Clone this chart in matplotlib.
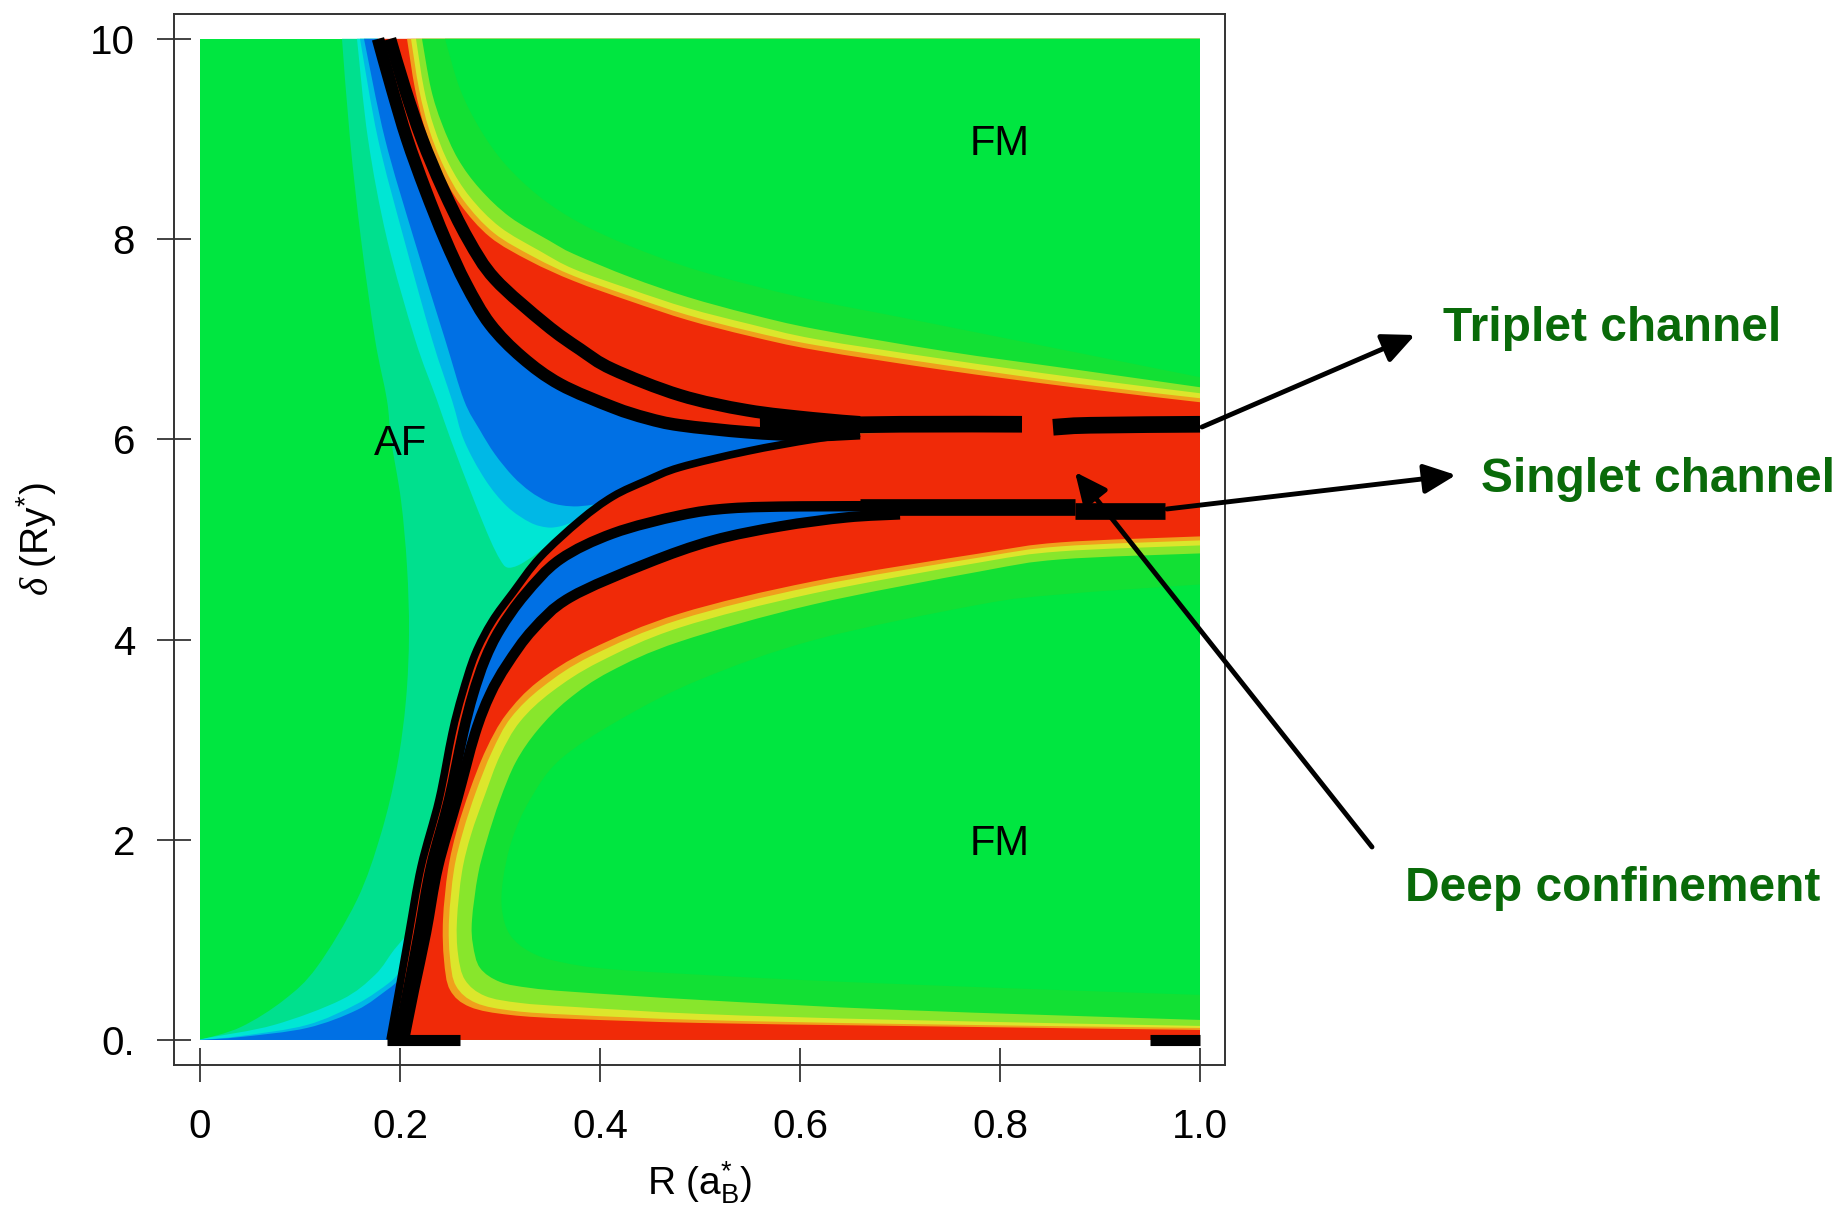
import numpy as np
import matplotlib
matplotlib.use("Agg")
import matplotlib.pyplot as plt
from matplotlib.path import Path
from matplotlib.patches import PathPatch

# ---- contour boundaries, as (R, delta) points ----
# left (AF) side, from the top edge downwards
green_teal = [(0.142, 10.0), (0.150, 9.0), (0.161, 8.0), (0.175, 7.0), (0.187, 6.39),
              (0.191, 6.0), (0.201, 5.39), (0.207, 4.73), (0.209, 4.06), (0.206, 3.40),
              (0.197, 2.73), (0.181, 2.06), (0.157, 1.40), (0.117, 0.73), (0.084, 0.40),
              (0.041, 0.13), (0.0, 0.0)]
teal_cyan_up = [(0.157, 10.0), (0.168, 9.0), (0.187, 8.0), (0.215, 7.0), (0.237, 6.39),
                (0.251, 5.99), (0.274, 5.39), (0.290, 5.00), (0.300, 4.80), (0.307, 4.72),
                (0.318, 4.74), (0.333, 4.83)]
cyan_lblue_up = [(0.160, 10.0), (0.178, 9.0), (0.204, 8.0), (0.232, 7.0), (0.252, 6.39),
                 (0.264, 5.99), (0.285, 5.60), (0.307, 5.33), (0.330, 5.17), (0.347, 5.12),
                 (0.360, 5.13), (0.372, 5.17)]
lblue_blue_up = [(0.164, 10.0), (0.185, 9.0), (0.214, 8.0), (0.245, 7.0), (0.264, 6.39),
                 (0.280, 6.09), (0.295, 5.85), (0.313, 5.63), (0.330, 5.48), (0.347, 5.38),
                 (0.362, 5.34), (0.378, 5.33), (0.395, 5.35)]
teal_cyan_low = [(0.0, 0.0), (0.007, 0.02), (0.074, 0.15), (0.141, 0.40), (0.175, 0.65),
                 (0.194, 0.90), (0.207, 1.05)]
cyan_lblue_low = [(0.0, 0.0), (0.041, 0.04), (0.107, 0.15), (0.157, 0.36), (0.189, 0.57),
                  (0.200, 0.68)]
lblue_blue_low = [(0.0, 0.0), (0.041, 0.03), (0.107, 0.12), (0.157, 0.30), (0.187, 0.50),
                  (0.197, 0.58)]

# black curves (triplet pair, separatrix, singlet pair)
u_inner = [(0.178, 10.0), (0.192, 9.5), (0.207, 9.0), (0.225, 8.5), (0.245, 8.0),
           (0.266, 7.55), (0.290, 7.15), (0.322, 6.82), (0.360, 6.55), (0.413, 6.32),
           (0.447, 6.21), (0.480, 6.14), (0.547, 6.07), (0.607, 6.04), (0.660, 6.06)]
u_outer = [(0.190, 10.0), (0.205, 9.5), (0.222, 9.0), (0.243, 8.5), (0.268, 8.0),
           (0.295, 7.60), (0.3455, 7.15), (0.380, 6.90), (0.4125, 6.70), (0.480, 6.44),
           (0.547, 6.29), (0.613, 6.21), (0.660, 6.17)]
sep = [(0.190, 0.0), (0.199, 0.5), (0.209, 1.07), (0.221, 1.73), (0.239, 2.4),
       (0.252, 3.06), (0.262, 3.45), (0.275, 3.85), (0.292, 4.18), (0.313, 4.47),
       (0.340, 4.82), (0.380, 5.19), (0.413, 5.43), (0.447, 5.59), (0.480, 5.72),
       (0.547, 5.88), (0.613, 6.00), (0.660, 6.06)]
l_upper = [(0.198, 0.0), (0.208, 0.5), (0.219, 1.07), (0.231, 1.73), (0.249, 2.4),
           (0.263, 3.06), (0.273, 3.45), (0.285, 3.80), (0.300, 4.10), (0.325, 4.45),
           (0.360, 4.80), (0.413, 5.06), (0.480, 5.24), (0.530, 5.31), (0.600, 5.33),
           (0.700, 5.33)]
l_lower = [(0.204, 0.0), (0.214, 0.5), (0.226, 1.07), (0.238, 1.73), (0.257, 2.4),
           (0.275, 3.06), (0.290, 3.45), (0.307, 3.75), (0.333, 4.10), (0.370, 4.42),
           (0.4467, 4.76), (0.513, 4.99), (0.580, 5.13), (0.647, 5.22), (0.700, 5.25)]
triplet_a = [(0.56, 6.13), (0.70, 6.15), (0.822, 6.15)]
triplet_b = [(0.853, 6.12), (0.89, 6.14), (1.0, 6.15)]
singlet_a = [(0.66, 5.32), (0.875, 5.32)]
singlet_b = [(0.875, 5.28), (0.965, 5.28)]
bottom_a = [(0.187, 0.0), (0.26, 0.0)]
bottom_b = [(0.95, 0.0), (1.0, 0.0)]

# upper FM side bands, top edge -> right edge
up_red_orange = [(0.207, 10.0), (0.215, 9.5), (0.225, 9.1), (0.240, 8.7), (0.260, 8.35),
                 (0.290, 8.02), (0.330, 7.78), (0.374, 7.58), (0.430, 7.38), (0.488, 7.19),
                 (0.550, 7.03), (0.616, 6.89), (0.745, 6.69), (0.873, 6.52), (1.0, 6.37)]
up_orange_yellow = [(0.211, 10.0), (0.219, 9.5), (0.229, 9.1), (0.244, 8.72), (0.264, 8.38),
                    (0.294, 8.06), (0.334, 7.82), (0.374, 7.63), (0.430, 7.43), (0.488, 7.24),
                    (0.550, 7.08), (0.616, 6.94), (0.745, 6.74), (0.873, 6.56), (1.0, 6.41)]
up_yellow_lime = [(0.216, 10.0), (0.224, 9.5), (0.234, 9.12), (0.249, 8.75), (0.270, 8.42),
                  (0.300, 8.12), (0.340, 7.88), (0.374, 7.70), (0.430, 7.50), (0.488, 7.31),
                  (0.550, 7.15), (0.616, 7.00), (0.745, 6.80), (0.873, 6.62), (1.0, 6.46)]
up_lime_dgreen = [(0.222, 10.0), (0.231, 9.5), (0.242, 9.15), (0.258, 8.8), (0.280, 8.5),
                  (0.310, 8.22), (0.350, 7.98), (0.374, 7.85), (0.430, 7.62), (0.488, 7.42),
                  (0.550, 7.25), (0.616, 7.10), (0.745, 6.88), (0.873, 6.70), (1.0, 6.52)]
up_dgreen_green = [(0.245, 10.0), (0.260, 9.5), (0.280, 9.1), (0.305, 8.75), (0.340, 8.42),
                   (0.380, 8.16), (0.430, 7.93), (0.500, 7.68), (0.600, 7.42), (0.700, 7.22),
                   (0.800, 7.02), (0.900, 6.82), (1.0, 6.62)]

# lower FM side bands, right edge (top) -> around -> right edge (bottom)
lo_red_orange = [(1.0, 5.03), (0.86, 4.97), (0.78, 4.86), (0.613, 4.58), (0.48, 4.26),
                 (0.39, 3.90), (0.338, 3.58), (0.306, 3.25), (0.286, 2.90), (0.270, 2.50),
                 (0.257, 2.10), (0.248, 1.70), (0.243, 1.20), (0.244, 0.80), (0.250, 0.50),
                 (0.270, 0.33), (0.310, 0.25), (0.374, 0.21), (0.50, 0.17), (0.70, 0.14),
                 (1.0, 0.10)]
lo_orange_yellow = [(1.0, 4.99), (0.86, 4.93), (0.78, 4.82), (0.613, 4.53), (0.48, 4.20),
                    (0.392, 3.84), (0.343, 3.53), (0.311, 3.22), (0.292, 2.88), (0.276, 2.48),
                    (0.263, 2.08), (0.254, 1.70), (0.249, 1.20), (0.250, 0.82), (0.256, 0.54),
                    (0.276, 0.37), (0.314, 0.29), (0.374, 0.25), (0.50, 0.20), (0.70, 0.16),
                    (1.0, 0.12)]
lo_yellow_lime = [(1.0, 4.94), (0.86, 4.88), (0.78, 4.77), (0.613, 4.46), (0.48, 4.12),
                  (0.40, 3.78), (0.352, 3.48), (0.320, 3.18), (0.300, 2.84), (0.285, 2.45),
                  (0.271, 2.05), (0.262, 1.68), (0.257, 1.20), (0.258, 0.86), (0.265, 0.60),
                  (0.285, 0.44), (0.320, 0.37), (0.374, 0.33), (0.50, 0.26), (0.70, 0.20),
                  (1.0, 0.14)]
lo_lime_dgreen = [(1.0, 4.86), (0.86, 4.80), (0.78, 4.68), (0.613, 4.35), (0.48, 3.98),
                  (0.41, 3.68), (0.368, 3.40), (0.338, 3.10), (0.316, 2.78), (0.300, 2.40),
                  (0.287, 2.00), (0.278, 1.65), (0.272, 1.20), (0.273, 0.95), (0.280, 0.72),
                  (0.300, 0.58), (0.330, 0.52), (0.374, 0.48), (0.50, 0.40), (0.70, 0.30),
                  (1.0, 0.20)]
lo_dgreen_green = [(1.0, 4.55), (0.86, 4.45), (0.78, 4.35), (0.616, 4.00), (0.50, 3.60),
                   (0.42, 3.20), (0.36, 2.80), (0.33, 2.40), (0.312, 2.00), (0.303, 1.60),
                   (0.302, 1.30), (0.31, 1.05), (0.33, 0.88), (0.36, 0.78), (0.42, 0.70),
                   (0.60, 0.60), (0.80, 0.52), (1.0, 0.45)]

x_ticks = [0, 0.2, 0.4, 0.6, 0.8, 1.0]
x_labels = ["0", "0.2", "0.4", "0.6", "0.8", "1.0"]
y_ticks = [0, 2, 4, 6, 8, 10]
y_labels = ["0.", "2", "4", "6", "8", "10"]

phase_labels = ["FM", "FM", "AF"]
phase_pos = [(0.80, 8.84), (0.80, 1.85), (0.20, 5.84)]

notes = ["Triplet channel", "Singlet channel", "Deep confinement"]
note_pos = [(1443, 341), (1481, 492), (1405, 901)]      # figure pixels
arrow_tail = [(1202, 427), (1167, 509), (1372, 847)]
arrow_head = [(1415, 335), (1456, 475), (1075, 472)]

GREEN = "#00e640"
DGREEN = "#12e034"
LIME = "#88e62c"
YELLOW = "#dce62c"
ORANGE = "#f0a01c"
RED = "#f02a08"
BLUE = "#0070e4"
LBLUE = "#00b8e6"
CYAN = "#00e6d4"
TEAL = "#00e08e"
NOTE = "#096a09"

plt.rcParams['font.family'] = ['Liberation Sans', 'DejaVu Sans']
plt.rcParams['mathtext.fontset'] = 'custom'
plt.rcParams['mathtext.rm'] = 'Liberation Sans'
plt.rcParams['mathtext.it'] = 'Liberation Serif:italic'


def above(curve, d0):
    return [p for p in curve if p[1] > d0]


def smooth_path(parts, close=False):
    # smooth curve through each group of read points, groups joined by straight edges
    verts, codes = [], []
    for k, pts in enumerate(parts):
        pts = np.asarray(pts, float)
        verts.append(pts[0])
        codes.append(Path.MOVETO if k == 0 else Path.LINETO)
        n = len(pts)
        if n < 3:
            for p in pts[1:]:
                verts.append(p)
                codes.append(Path.LINETO)
            continue
        for i in range(n - 1):
            p0 = pts[max(i - 1, 0)]
            p1, p2 = pts[i], pts[i + 1]
            p3 = pts[min(i + 2, n - 1)]
            verts += [p1 + (p2 - p0) / 6.0, p2 - (p3 - p1) / 6.0, p2]
            codes += [Path.CURVE4] * 3
    if close:
        verts.append(verts[0])
        codes.append(Path.CLOSEPOLY)
    return Path(verts, codes)


def patch(ax, parts, color, z=2):
    ax.add_patch(PathPatch(smooth_path(parts, True), facecolor=color,
                           edgecolor='none', zorder=z))


def line(ax, pts, lw, color='black', z=6):
    ax.add_patch(PathPatch(smooth_path([pts]), facecolor='none', edgecolor=color,
                           lw=lw, capstyle='butt', joinstyle='round', zorder=z))


fig = plt.figure(figsize=(18.45, 12.06), dpi=100)
ax = fig.add_axes([174 / 1845, 141 / 1206, 1051 / 1845, 1051 / 1206])

# background phase
patch(ax, [[(0, 0), (1, 0)], [(1, 10), (0, 10)]], GREEN, 1)

# AF side (between the separatrix and the inner triplet curve)
patch(ax, [green_teal, [(0.19, 0.0)], sep, u_inner[::-1]], TEAL)
patch(ax, [teal_cyan_up, above(sep, teal_cyan_up[-1][1]), u_inner[::-1]], CYAN)
patch(ax, [cyan_lblue_up, above(sep, cyan_lblue_up[-1][1]), u_inner[::-1]], LBLUE)
patch(ax, [lblue_blue_up, above(sep, lblue_blue_up[-1][1]), u_inner[::-1]], BLUE)
patch(ax, [teal_cyan_low, [(0.19, 0.0)]], CYAN)
patch(ax, [cyan_lblue_low, [(0.19, 0.0)]], LBLUE)
patch(ax, [lblue_blue_low, [(0.19, 0.0)]], BLUE)

# upper FM side
patch(ax, [u_inner, [(1.0, 6.06), (1.0, 10.0)]], RED, 3)
for c, col in [(up_red_orange, ORANGE), (up_orange_yellow, YELLOW), (up_yellow_lime, LIME),
               (up_lime_dgreen, DGREEN), (up_dgreen_green, GREEN)]:
    patch(ax, [c, [(1.0, 10.0)]], col, 4)

# lower FM side
patch(ax, [sep, [(1.0, 6.1), (1.0, 0.0)]], RED, 3)
patch(ax, [l_upper, l_lower[::-1]], BLUE, 4)
for c, col in [(lo_red_orange, ORANGE), (lo_orange_yellow, YELLOW), (lo_yellow_lime, LIME),
               (lo_lime_dgreen, DGREEN), (lo_dgreen_green, GREEN)]:
    patch(ax, [c], col, 4)

# black channel curves
line(ax, u_inner, 9)
line(ax, u_outer, 9)
line(ax, sep, 5.5)
line(ax, l_upper, 7.5)
line(ax, l_lower, 7.5)
for seg in (triplet_a, triplet_b, singlet_a, singlet_b):
    line(ax, seg, 12)
line(ax, bottom_a, 8)
line(ax, bottom_b, 8)

ax.set_xlim(-0.026, 1.025)
ax.set_ylim(-0.25, 10.248)

for txt, (px, py) in zip(phase_labels, phase_pos):
    ax.text(px, py, txt, ha='center', va='baseline', fontsize=30, zorder=7)

ax.set_xticks(x_ticks)
ax.set_xticklabels(x_labels)
ax.set_yticks(y_ticks)
ax.set_yticklabels(y_labels)
ax.tick_params(direction='inout', length=24, width=1.2, labelsize=29, color='#222222')
ax.tick_params(axis='x', pad=19)
ax.tick_params(axis='y', pad=16)
for s in ax.spines.values():
    s.set_linewidth(1.4)
    s.set_color('#333333')

ax.set_xlabel(r'R (a$_{\mathrm{B}}^{*}$)', fontsize=28, va='center')
ax.xaxis.set_label_coords(0.5, -0.1123)
ax.set_ylabel(r'$\delta$ (Ry$^{*}$)', fontsize=28, va='center')
ax.yaxis.set_label_coords(-0.1304, 0.5)

# annotations on top of everything, in figure pixels
ov = fig.add_axes([0, 0, 1, 1], zorder=5)
ov.set_xlim(0, 1845)
ov.set_ylim(1206, 0)
ov.axis('off')
ov.patch.set_alpha(0)
for t, h in zip(arrow_tail, arrow_head):
    ov.annotate('', xy=h, xytext=t,
                arrowprops=dict(arrowstyle='-|>,head_length=0.65,head_width=0.3',
                                lw=3.5, color='black', mutation_scale=30,
                                shrinkA=0, shrinkB=0))
for txt, (px, py) in zip(notes, note_pos):
    ov.text(px, py, txt, ha='left', va='baseline', fontsize=34.5, fontweight='bold',
            color=NOTE)

fig.savefig('out.png', dpi=100)
